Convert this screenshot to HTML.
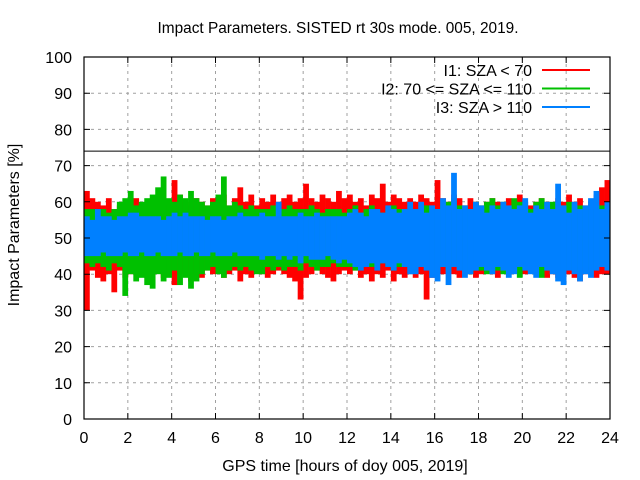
<!DOCTYPE html>
<html><head><meta charset="utf-8"><style>
body{margin:0;background:#fff}
svg{display:block;font-family:"Liberation Sans",sans-serif}
</style></head><body>
<svg id="chart" width="640" height="480">
<text x="338" y="33" text-anchor="middle" font-size="15.4">Impact Parameters. SISTED rt 30s mode. 005, 2019.</text>
<g id="grid"></g>
<g id="series"></g>
<g id="axes"></g>
<text x="345" y="471" text-anchor="middle" font-size="16">GPS time [hours of doy 005, 2019]</text>
<text transform="translate(19,225) rotate(-90)" text-anchor="middle" font-size="16">Impact Parameters [%]</text>
<g id="legend"></g>
</svg>
<script>
const xTicks=[0,2,4,6,8,10,12,14,16,18,20,22,24];
const yTicks=[0,10,20,30,40,50,60,70,80,90,100];
const refLevel=74;
const names=["I1: SZA < 70","I2: 70 <= SZA <= 110","I3: SZA > 110"];
const colors=["#ff0000","#00c000","#0080ff"];
const redHi=[63,61,60,59,61,58,59,60,58,61,59,60,60,61,59,60,66,62,60,59,61,60,59,61,60,62,59,61,64,60,62,59,61,60,62,60,61,62,60,61,65,61,60,62,61,60,63,61,62,60,61,59,62,61,65,60,62,61,60,61,60,62,61,60,66,61,60,62,61,59,61,60,59,60,61,60,59,61,60,62,60,59,60,61,60,59,61,60,62,60,61,59,60,62,64,66];
const redLo=[30,41,39,38,40,35,41,39,40,41,40,39,40,41,39,40,37,40,41,38,40,39,41,40,41,39,40,41,38,40,39,41,40,39,40,41,40,39,38,33,39,40,41,40,39,38,40,41,40,41,39,40,38,40,39,41,38,40,39,40,39,40,33,39,41,40,41,40,39,41,40,39,40,41,40,39,41,40,41,42,40,41,40,41,39,40,39,38,40,39,38,40,41,39,40,40];
const greenHi=[58,58,57,58,57,58,60,61,63,59,60,61,62,64,67,61,60,62,61,63,61,60,59,60,62,67,59,60,59,58,59,58,58,58,59,58,58,59,58,58,58,59,58,57,58,58,58,57,58,59,57,58,59,58,57,58,59,58,58,58,58,58,59,58,58,59,60,61,59,59,58,60,59,60,61,59,60,58,61,60,59,58,60,61,59,60,58,59,60,58,59,58,59,58,59,58];
const greenLo=[43,42,43,42,41,43,42,34,40,38,39,37,36,40,38,39,41,37,39,36,38,40,41,42,40,39,41,42,41,42,41,40,40,42,41,42,41,42,42,41,43,42,41,42,42,43,42,42,42,41,42,43,42,42,43,42,41,42,42,43,42,42,43,42,41,42,41,43,42,41,40,41,41,40,42,41,40,42,41,39,42,41,40,39,41,42,40,41,42,41,42,42,41,42,43,42];
const blueHi=[56,55,58,56,56,55,56,56,57,57,56,56,56,56,55,56,57,56,57,56,56,56,55,56,56,55,56,56,57,56,56,56,57,56,56,60,56,56,56,57,56,56,57,56,56,56,56,56,57,58,57,56,58,58,57,59,58,57,58,60,58,60,57,59,58,61,59,68,58,59,58,60,59,57,59,58,60,59,58,59,61,57,59,58,60,58,65,59,57,60,58,59,61,63,58,60];
const blueLo=[45,45,45,46,45,45,45,46,45,45,46,45,45,46,45,45,45,46,45,45,46,45,45,46,45,45,45,46,45,45,45,45,44,45,45,44,45,44,45,43,45,44,44,44,45,44,43,44,43,42,41,42,43,41,43,42,41,43,42,40,40,42,41,39,38,42,37,42,41,39,40,41,42,41,40,42,41,39,40,42,41,40,39,42,41,40,38,37,41,40,38,40,39,41,42,41];
const seriesHi=[redHi,greenHi,blueHi], seriesLo=[redLo,greenLo,blueLo];
const X0=84,X1=610,Y0=419,Y1=57;
const xs=v=>X0+(v-0)/(24-0)*(X1-X0);
const ys=v=>Y0-(v-0)/(100-0)*(Y0-Y1);
const NS="http://www.w3.org/2000/svg";
function mk(tag,attrs,parent){const e=document.createElementNS(NS,tag);for(const k in attrs)e.setAttribute(k,attrs[k]);parent.appendChild(e);return e;}
const grid=document.getElementById('grid'),axes=document.getElementById('axes'),ser=document.getElementById('series'),leg=document.getElementById('legend');
xTicks.forEach(t=>{
 if(t>0&&t<24){const l=mk('line',{x1:xs(t),x2:xs(t),y1:Y1,y2:Y0,stroke:'#a0a0a0','stroke-dasharray':'3,4'},grid);
 }
 const tk=mk('path',{d:`M${xs(t)},${Y0}v-6M${xs(t)},${Y1}v6`,stroke:'#000'},axes);
 
 const tx=mk('text',{x:xs(t),y:Y0+24,'text-anchor':'middle','font-size':'16'},axes);tx.textContent=t;
 
});
yTicks.forEach(t=>{
 if(t>0&&t<100){const l=mk('line',{x1:X0,x2:X1,y1:ys(t),y2:ys(t),stroke:'#a0a0a0','stroke-dasharray':'3,4'},grid);
 }
 const tk=mk('path',{d:`M${X0},${ys(t)}h6M${X1},${ys(t)}h-6`,stroke:'#000'},axes);
 
 const tx=mk('text',{x:X0-12,y:ys(t)+6,'text-anchor':'end','font-size':'16'},axes);tx.textContent=t;
 
});
const ref=mk('line',{x1:X0,x2:X1,y1:ys(refLevel),y2:ys(refLevel),stroke:'#000','stroke-width':1},grid);

seriesHi.forEach((hi,s)=>{
 const g=mk('g',{},ser);
 
 hi.forEach((h,i)=>{
  const lo=seriesLo[s][i], x=xs(i*24/hi.length);
  const r=mk('rect',{x:x,y:ys(h),width:(X1-X0)/hi.length+0.3,height:ys(lo)-ys(h),fill:colors[s]},g);
  
 });
});
const bd=mk('rect',{x:X0,y:Y1,width:X1-X0,height:Y0-Y1,fill:'none',stroke:'#000','stroke-width':1.2},axes);

names.forEach((n,i)=>{
 const y=70+i*18.5;
 const t=mk('text',{x:532,y:y+6,'text-anchor':'end','font-size':'16'},leg);t.textContent=n;
 
 const l=mk('line',{x1:542,x2:590,y1:y,y2:y,stroke:colors[i],'stroke-width':2},leg);
 
});
</script>
</body></html>
